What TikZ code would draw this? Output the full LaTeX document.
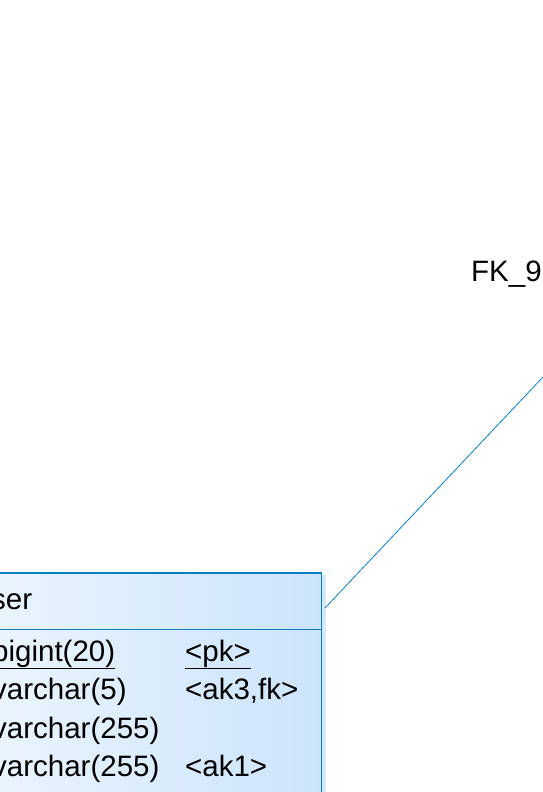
\documentclass[tikz,border=0pt]{standalone}
\usepackage{fontspec}
\setmainfont{Liberation Sans}
\usetikzlibrary{calc}
\definecolor{pdblue}{HTML}{0A7EC2}
\definecolor{boxlight}{HTML}{EBF5FE}
\definecolor{boxdark}{HTML}{CCE4FB}
\definecolor{shadowc}{HTML}{D3E9FB}
\begin{document}
\begin{tikzpicture}[x=1pt,y=-1pt,
  txt/.style={anchor=base west,inner sep=0pt,font=\fontsize{29.5}{34}\selectfont},
  tablebox/.style={draw=pdblue,line width=1.5pt,left color=boxlight,right color=boxdark,inner sep=0pt},
  conn/.style={draw=pdblue,line width=0.8pt}]
\useasboundingbox (0,0) rectangle (543,792);
% shadow
\fill[shadowc] (-20,575) rectangle (326,830);
% table
\node[tablebox,minimum width=342pt,minimum height=258pt,anchor=north east] (tbl) at (322,572) {};
\draw[pdblue,line width=1pt] (tbl.west |- 0,629) -- (tbl.east |- 0,629);
\node[txt] (title) at (-9,609) {ser};
\node[txt] (r1a) at (-8,661) {\underline{bigint(20)}};
\node[txt] (r1b) at (185,661) {\underline{<pk>}};
\node[txt] (r2a) at (-8,699.5) {varchar(5)};
\node[txt] (r2b) at (185,699.5) {<ak3,fk>};
\node[txt] (r3a) at (-8,738) {varchar(255)};
\node[txt] (r4a) at (-8,776.5) {varchar(255)};
\node[txt] (r4b) at (185,776.5) {<ak1>};
% reference label
\node[txt] (fk) at (471,281) {FK\_9};
% connector
\coordinate (la) at ($(tbl.north east)+(3,36)$);
\coordinate (lb) at (543,377);
\draw[conn] (la) -- (lb);
\end{tikzpicture}
\end{document}
